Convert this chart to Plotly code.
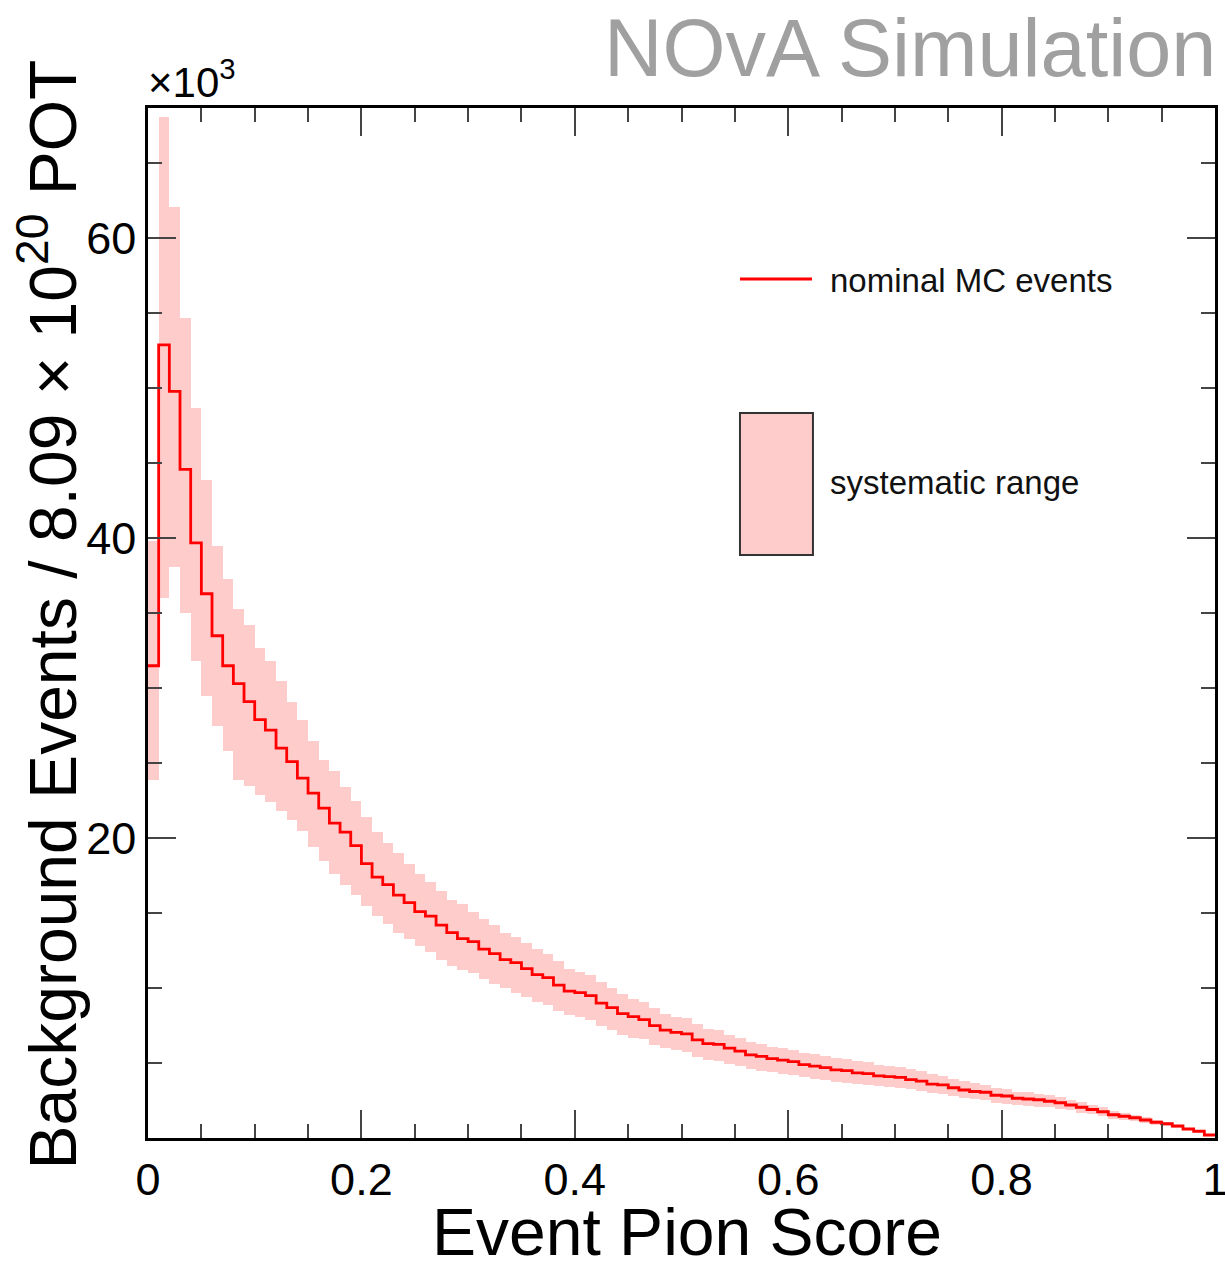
import plotly.graph_objects as go

# ---- data (values in units of 10^3 events), 100 bins of width 0.01 on [0, 1]
bin_width = 0.01
n_bins = 100
bin_low_edges = [i * bin_width for i in range(n_bins)]

nominal = [
    31.5, 52.9, 49.8, 44.6, 39.7, 36.3, 33.5, 31.5, 30.3, 29.1,
    27.9, 27.2, 26.0, 25.1, 24.0, 23.0, 22.0, 21.0, 20.4, 19.5,
    18.3, 17.4, 16.9, 16.2, 15.7, 15.1, 14.8, 14.2, 13.7, 13.3,
    13.1, 12.6, 12.3, 11.9, 11.7, 11.3, 10.9, 10.7, 10.2, 9.8,
    9.7, 9.5, 9.0, 8.7, 8.3, 8.1, 7.9, 7.5, 7.2, 7.05,
    6.95, 6.55, 6.3, 6.25, 6.0, 5.8, 5.55, 5.45, 5.3, 5.2,
    5.1, 4.9, 4.8, 4.7, 4.55, 4.5, 4.35, 4.3, 4.15, 4.1,
    4.05, 3.9, 3.8, 3.6, 3.55, 3.35, 3.2, 3.1, 3.05, 2.85,
    2.8, 2.65, 2.6, 2.55, 2.45, 2.35, 2.2, 2.05, 1.9, 1.75,
    1.55, 1.45, 1.35, 1.2, 1.05, 0.95, 0.8, 0.6, 0.45, 0.2,
]

syst_upper = [
    39.8, 68.1, 62.1, 54.7, 48.7, 43.9, 39.5, 37.3, 35.3, 34.2,
    32.7, 31.8, 30.5, 29.1, 27.9, 26.5, 25.2, 24.5, 23.4, 22.5,
    21.4, 20.4, 19.7, 19.0, 18.3, 17.6, 17.1, 16.5, 15.9, 15.6,
    15.1, 14.6, 14.2, 13.7, 13.4, 13.0, 12.6, 12.3, 11.8, 11.3,
    11.1, 10.9, 10.4, 10.0, 9.6, 9.3, 9.1, 8.7, 8.3, 8.1,
    8.0, 7.6, 7.3, 7.2, 6.9, 6.7, 6.4, 6.3, 6.1, 6.0,
    5.9, 5.7, 5.6, 5.5, 5.35, 5.3, 5.15, 5.05, 4.9, 4.8,
    4.75, 4.6, 4.45, 4.25, 4.15, 3.95, 3.8, 3.65, 3.55, 3.35,
    3.3, 3.1, 3.05, 2.95, 2.85, 2.75, 2.55, 2.4, 2.2, 2.05,
    1.8, 1.7, 1.55, 1.4, 1.2, 1.1, 0.9, 0.68, 0.5, 0.22,
]

syst_lower = [
    23.9, 36.0, 38.1, 35.0, 31.8, 29.5, 27.5, 25.8, 23.9, 23.5,
    22.9, 22.4, 21.8, 21.2, 20.5, 19.4, 18.5, 17.6, 16.9, 16.2,
    15.5, 14.8, 14.3, 13.7, 13.3, 12.8, 12.4, 11.9, 11.5, 11.2,
    11.0, 10.6, 10.3, 10.0, 9.7, 9.4, 9.1, 8.9, 8.5, 8.2,
    8.1, 7.9, 7.5, 7.2, 6.9, 6.7, 6.6, 6.2, 6.0, 5.85,
    5.75, 5.4, 5.2, 5.15, 4.95, 4.8, 4.6, 4.5, 4.4, 4.3,
    4.2, 4.05, 3.95, 3.9, 3.75, 3.7, 3.6, 3.55, 3.45, 3.4,
    3.35, 3.25, 3.15, 3.0, 2.95, 2.8, 2.65, 2.6, 2.55, 2.35,
    2.3, 2.2, 2.15, 2.1, 2.05, 1.95, 1.85, 1.7, 1.6, 1.45,
    1.3, 1.2, 1.15, 1.0, 0.9, 0.8, 0.7, 0.52, 0.4, 0.18,
]

x_tick_vals = [0, 0.2, 0.4, 0.6, 0.8, 1.0]
x_tick_text = ["0", "0.2", "0.4", "0.6", "0.8", "1"]
y_tick_vals = [20, 40, 60]
y_tick_text = ["20", "40", "60"]

PINK = "#ffcccc"
RED = "#ff0000"
FONT = "Liberation Sans, Arial, Helvetica, sans-serif"

bin_centers = [e + bin_width / 2 for e in bin_low_edges]
band_height = [u - l for u, l in zip(syst_upper, syst_lower)]

fig = go.Figure()

# systematic band as stepped bars
fig.add_trace(go.Bar(
    x=bin_centers, y=band_height, base=syst_lower, width=bin_width,
    marker=dict(color=PINK, line=dict(width=0)),
    hoverinfo="skip", showlegend=False,
))

# nominal histogram as a step line
fig.add_trace(go.Scatter(
    x=bin_low_edges + [1.0], y=nominal + [nominal[-1]],
    mode="lines", line=dict(color=RED, width=2.8, shape="hv"),
    showlegend=False, cliponaxis=False,
))

axis_common = dict(
    showgrid=False, zeroline=False, automargin=False,
    showline=True, linecolor="black", linewidth=2.5, mirror="allticks",
    ticks="inside", ticklen=28, tickwidth=2, tickcolor="#444444",
    ticklabeloverflow="allow",
    tickfont=dict(family=FONT, size=45, color="black"),
)

fig.update_layout(
    width=1225, height=1263,
    margin=dict(l=148, r=10, t=108, b=125),
    paper_bgcolor="white", plot_bgcolor="white",
    bargap=0, barmode="overlay",
    xaxis=dict(range=[0, 1], tickvals=x_tick_vals, ticktext=x_tick_text,
               minor=dict(dtick=0.05, tick0=0, ticks="inside", ticklen=14,
                          tickwidth=2, tickcolor="#444444"),
               **axis_common),
    yaxis=dict(range=[0, 68.7], tickvals=y_tick_vals, ticktext=y_tick_text,
               minor=dict(dtick=5, tick0=0, ticks="inside", ticklen=14,
                          tickwidth=2, tickcolor="#444444"),
               **axis_common),
    font=dict(family=FONT, color="black"),
)

# Axis titles
fig.add_annotation(xref="paper", yref="paper", x=0.505, y=-0.091,
                   text="Event Pion Score", showarrow=False,
                   font=dict(size=66, family=FONT), xanchor="center", yanchor="middle")
fig.add_annotation(xref="paper", yref="paper", x=-0.094, y=0.508,
                   text="Background Events / 8.09 × 10<sup>20</sup> POT",
                   textangle=-90, showarrow=False,
                   font=dict(size=66, family=FONT), xanchor="center", yanchor="middle")
# exponent
fig.add_annotation(xref="paper", yref="paper", x=-0.002, y=1.0,
                   text="×10<sup>3</sup>", showarrow=False,
                   font=dict(size=42, family=FONT), xanchor="left", yanchor="bottom")
# NOvA Simulation
fig.add_annotation(xref="paper", yref="paper", x=1.003, y=1.058,
                   text="NOvA Simulation", showarrow=False,
                   font=dict(size=81, family=FONT, color="#a0a0a0"),
                   xanchor="right", yanchor="middle")

# Legend (drawn manually)
fig.add_shape(type="line", xref="paper", yref="paper",
              x0=0.5548, x1=0.6223, y0=0.834, y1=0.834,
              line=dict(color=RED, width=3))
fig.add_annotation(xref="paper", yref="paper", x=0.6373, y=0.833,
                   text="nominal MC events", showarrow=False,
                   font=dict(size=33, family=FONT, color="#111111"),
                   xanchor="left", yanchor="middle")
fig.add_shape(type="rect", xref="paper", yref="paper",
              x0=0.5548, x1=0.6232, y0=0.566, y1=0.7039,
              fillcolor=PINK, line=dict(color="#333333", width=2))
fig.add_annotation(xref="paper", yref="paper", x=0.6373, y=0.636,
                   text="systematic range", showarrow=False,
                   font=dict(size=33, family=FONT, color="#111111"),
                   xanchor="left", yanchor="middle")

fig.write_html("out.html")
